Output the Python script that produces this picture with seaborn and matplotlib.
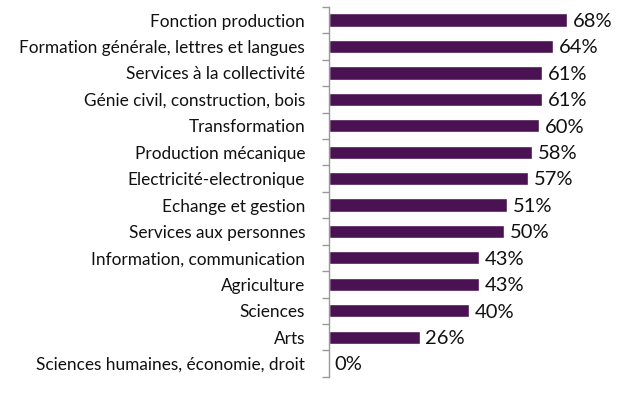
import matplotlib
matplotlib.use("Agg")
import matplotlib.pyplot as plt
import seaborn as sns
import pandas as pd
import numpy as np

categories = ["Fonction production", "Formation générale, lettres et langues",
              "Services à la collectivité", "Génie civil, construction, bois",
              "Transformation", "Production mécanique", "Electricité-electronique",
              "Echange et gestion", "Services aux personnes",
              "Information, communication", "Agriculture", "Sciences", "Arts",
              "Sciences humaines, économie, droit"]
values = [68, 64, 61, 61, 60, 58, 57, 51, 50, 43, 43, 40, 26, 0]

df = pd.DataFrame({"cat": categories, "val": values})

sns.set_theme(style="white")
plt.rcParams['font.family'] = ['Lato', 'DejaVu Sans']

fig = plt.figure(figsize=(6.31, 4.03), dpi=100)
ax = fig.add_axes([0.521, 0.065, 0.444, 0.918])
sns.barplot(data=df, y="cat", x="val", color="#4A1252", width=0.5, ax=ax,
            saturation=1, orient="h")
ax.set_xlim(0, 80)
ax.set_ylim(len(categories) - 0.5, -0.5)
for i, v in enumerate(values):
    ax.text(v + 1.6, i + 0.05, f"{v}%", va="center", ha="left", fontsize=14.5, color="#111111")

ax.set_xlabel("")
ax.set_ylabel("")
ax.set_xticks([])
ax.tick_params(axis="y", length=0, labelsize=12.4, pad=17, colors="#111111")
ax.set_yticks(np.arange(-0.5, len(categories), 1), minor=True)
ax.tick_params(axis="y", which="minor", length=5, width=1, color="#999999", left=True)
for s in ["top", "right", "bottom"]:
    ax.spines[s].set_visible(False)
ax.spines["left"].set_color("#999999")
ax.spines["left"].set_linewidth(1)

fig.savefig("out.png", dpi=100)
